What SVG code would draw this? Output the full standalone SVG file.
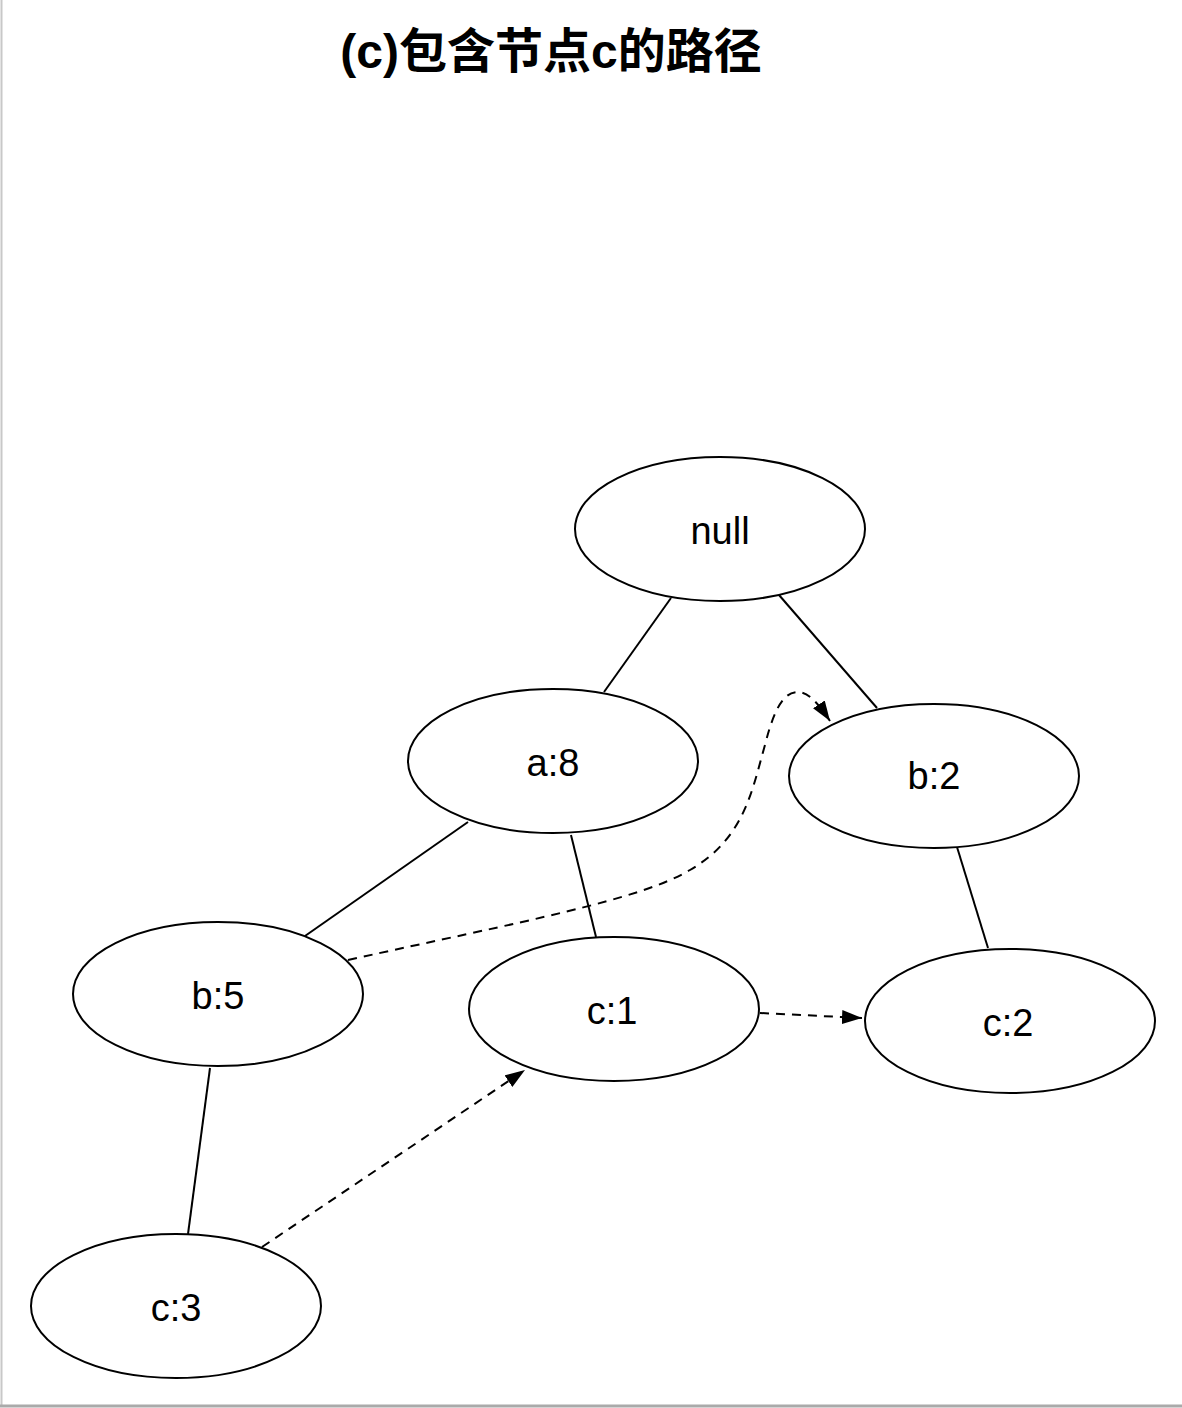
<svg xmlns="http://www.w3.org/2000/svg" width="1182" height="1408" viewBox="0 0 1182 1408">
<defs>
<style>
.node ellipse{fill:#fff;stroke:#000;stroke-width:2}
.node text{font-family:"Liberation Sans",Arial,sans-serif;font-size:38px;fill:#000;text-anchor:middle;dominant-baseline:central}
.edge{fill:none;stroke:#000;stroke-width:2}
.dash{fill:none;stroke:#000;stroke-width:2;stroke-dasharray:9 7}
.title{font-family:"Liberation Sans","Noto Sans CJK SC",sans-serif;font-size:48px;font-weight:bold;text-anchor:middle;fill:#000}
</style>
<marker id="arrow" markerUnits="userSpaceOnUse" markerWidth="22" markerHeight="16" refX="20" refY="7" orient="auto" viewBox="0 0 22 16">
<path d="M0,0 L20,7 L0,14 Z" fill="#000"/>
</marker>
</defs>
<rect x="0" y="0" width="1182" height="1408" fill="#fff"/>
<line x1="1.5" y1="0" x2="1.5" y2="1405" stroke="#c8c8c8" stroke-width="2"/>
<line x1="0" y1="1406" x2="1182" y2="1406" stroke="#aaaaaa" stroke-width="3"/>
<text class="title" x="551" y="68">(c)包含节点c的路径</text>
<g id="connectors">
<line class="edge" x1="671" y1="598" x2="604" y2="692"/>
<line class="edge" x1="779" y1="595" x2="877" y2="708"/>
<line class="edge" x1="468" y1="822" x2="305" y2="936"/>
<line class="edge" x1="571" y1="835" x2="596" y2="937"/>
<line class="edge" x1="957" y1="847" x2="988" y2="948"/>
<line class="edge" x1="210" y1="1068" x2="188" y2="1234"/>
<path class="dash" d="M348,960 C520,922 640,900 690,870 C745,838 752,790 765,745 C775,705 785,692 798,692 C808,692 818,703 830,721" marker-end="url(#arrow)"/>
<path class="dash" d="M760,1013 L862,1018" marker-end="url(#arrow)"/>
<path class="dash" d="M262,1247 L525,1070" marker-end="url(#arrow)"/>
</g>
<g id="node-null" class="node"><ellipse cx="720" cy="529" rx="145" ry="72"/><text x="720" y="531">null</text></g>
<g id="node-a8" class="node"><ellipse cx="553" cy="761" rx="145" ry="72"/><text x="553" y="763">a:8</text></g>
<g id="node-b2" class="node"><ellipse cx="934" cy="776" rx="145" ry="72"/><text x="934" y="776">b:2</text></g>
<g id="node-b5" class="node"><ellipse cx="218" cy="994" rx="145" ry="72"/><text x="218" y="996">b:5</text></g>
<g id="node-c1" class="node"><ellipse cx="614" cy="1009" rx="145" ry="72"/><text x="612" y="1011">c:1</text></g>
<g id="node-c2" class="node"><ellipse cx="1010" cy="1021" rx="145" ry="72"/><text x="1008" y="1023">c:2</text></g>
<g id="node-c3" class="node"><ellipse cx="176" cy="1306" rx="145" ry="72"/><text x="176" y="1308">c:3</text></g>
</svg>
